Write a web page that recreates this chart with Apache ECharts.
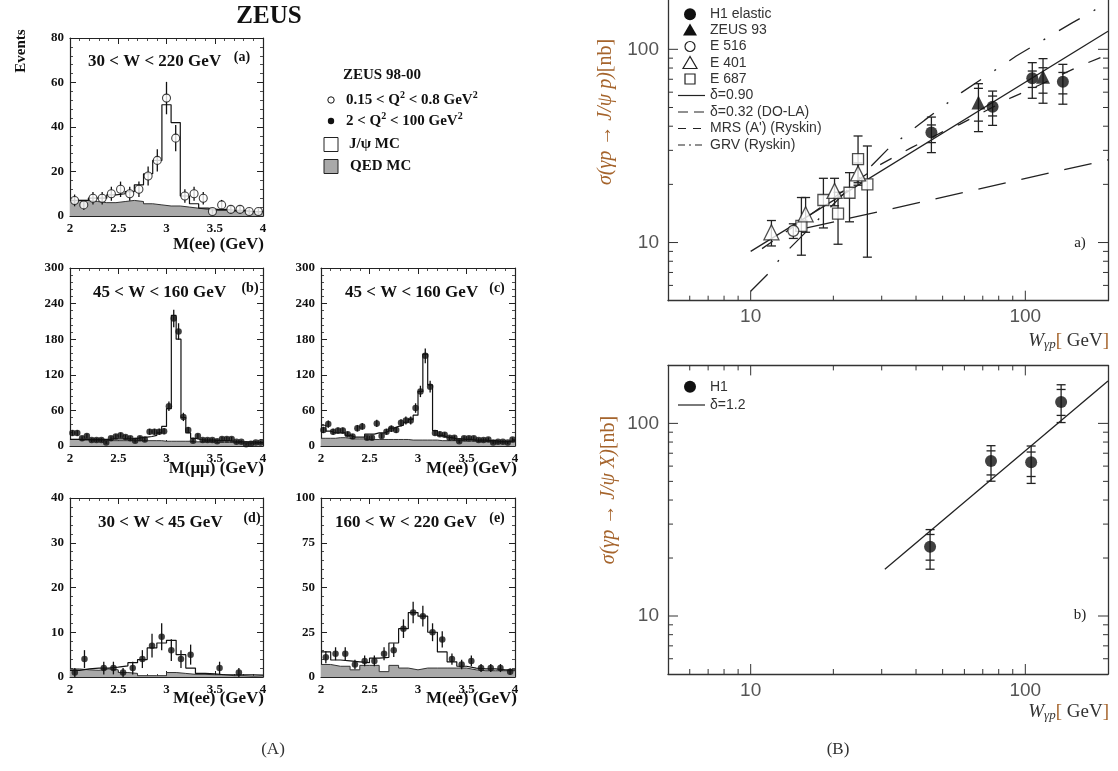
<!DOCTYPE html>
<html><head><meta charset="utf-8">
<script src="https://cdn.jsdelivr.net/npm/echarts@6/dist/echarts.min.js"></script>
<style>html,body{margin:0;padding:0;background:#fff}#c{width:1118px;height:771px}</style>
</head><body><div id="c"></div>
<script>
// ---------------- DATA (A): ZEUS 98-00 mass spectra ----------------
const massRange = [2, 4];
const massTicks = ['2', '2.5', '3', '3.5', '4'];
// (a) 30<W<220 GeV, M(ee), 21 bins
const aData   = [7,5,8,8,10,12,10,12,18,25,53,35,9,10,8,2,5,3,3,2,2];
const aJpsiMC = [7,7,8,8,9.5,10,11,14,19,25,50,42,9,5.5,3.5,3,3,2.5,2.5,2,2];
const aQedMC  = [7,7,6.5,6,6,6.5,7,6.5,5.5,5,4.5,4.5,4,3.5,3,2.5,2.5,2,2,2,2];
// (b) 45<W<160 GeV, M(mumu), 40 bins
const bData   = [22,22,13,17,10,10,10,6,13,16,18,15,13,9,13,11,24,24,24,25,67,215,193,49,27,9,17,10,10,10,8,12,12,12,7,7,3,4,6,6];
const bJpsiMC = [11,11,11,11,11,11,11,11,12,12,12,12,12,13,14,15,16,18,22,33,63,220,180,48,22,13,11,10,10,10,9,9,9,8,8,7,7,7,6,6];
const bQedMC  = [11,11,10,10,10,10,10,10,9,9,9,9,9,9,9,9,9,9,9,8,8,8,8,8,8,7,7,7,7,7,6,6,6,6,6,5,5,5,5,5];
// (c) 45<W<160 GeV, M(ee), 40 bins
const cData   = [27,37,24,26,26,20,16,30,33,14,14,38,17,24,29,27,39,43,43,64,92,152,100,22,20,19,14,14,8,13,13,13,10,10,11,6,7,7,6,11];
const cJpsiMC = [35,25,22,22,22,18,15,15,15,20,20,22,22,25,30,33,35,40,45,52,92,155,103,26,18,15,14,12,12,11,11,10,10,10,9,9,8,8,8,9];
const cQedMC  = [13,13,13,14,14,13,12,12,12,11,11,11,11,11,11,11,11,11,10,10,10,10,10,10,9,9,9,9,9,8,8,8,8,8,7,7,7,7,7,7];
// (d) 30<W<45 GeV, M(ee), 20 bins
const dData   = [1,4,null,2,2,1,2,4,7,9,6,4,5,null,null,2,null,1,null,null];
const dJpsiMC = [1.5,1.8,2,2,2.2,2.5,3.2,3.9,6.5,7.6,8.2,5,2,0.8,0.7,0.5,0.5,0.5,0.5,0.4];
const dQedMC  = [1.8,1.6,1.5,1.8,1.6,1.0,0.8,0.3,0.3,0.3,1.0,0.8,0.6,0.6,0.5,0.5,0.3,0.3,0.2,0.2];
// (e) 160<W<220 GeV, M(ee), 20 bins
const eData   = [11,13,13,7,9,9,13,15,27,36,34,25,21,10,7,9,5,5,5,3];
const eJpsiMC = [14,9.5,9,8.5,8,10.5,11,19,27,36,34,25,14,8.5,6,5,4.5,4.5,4,4];
const eQedMC  = [7,6,6,4,6.5,6.5,3,6.5,5,4,5,5,5,5,5,4,3.5,3.5,3.5,3.5];

// ---------------- DATA (B): J/psi photoproduction cross sections ----------------
const wRange = [5, 200];
const sRangeTop = [5, 180];
const sRangeBottom = [5, 200];
const logMinorTicks = [6,7,8,9,20,30,40,50,60,70,80,90];
const logMajorTicks = [10,100];
// H1 elastic: W, sigma, total lo/hi, stat lo/hi
const h1W      = [45.5, 76, 106, 137];
const h1Sig    = [37.1, 50.5, 70.8, 68];
const h1Lo     = [29.2, 40.4, 55.8, 52];
const h1Hi     = [44.6, 60.8, 85.3, 83.6];
const h1StLo   = [32.9, 45.2, 63.5, 58.8];
const h1StHi   = [40.6, 57.3, 77.2, 75.9];
// ZEUS 93
const z93W     = [67.5, 116];
const z93Sig   = [53.0, 72.1];
const z93Lo    = [37.5, 52.6];
const z93Hi    = [66.4, 89.5];
const z93StLo  = [42.5, 59.3];
const z93StHi  = [62.8, 80.3];
// E 516
const e516W = [14.3], e516Sig = [11.5], e516Lo = [10.5], e516Hi = [12.5];
// E 401
const e401W   = [11.9, 15.85, 20.2, 24.6];
const e401Sig = [11.3, 14.0, 18.5, 22.8];
const e401Lo  = [9.6, 11.3, 15.5, 19.8];
const e401Hi  = [13.0, 17.1, 21.5, 25.8];
// E 687
const e687W   = [15.3, 18.4, 20.8, 22.9, 24.6, 26.6];
const e687Sig = [12.2, 16.6, 14.1, 18.1, 27.0, 20.0];
const e687Lo  = [8.6, 11.9, 9.8, 12.8, 20.4, 8.4];
const e687Hi  = [17.1, 21.5, 18.2, 23.0, 35.6, 31.6];
// model curves [W, sigma]
const fitD090 = [[10, 9.0], [200, 124]];
const fitD032 = [[16, 11.9], [200, 26.8]];
const mrsRyskin = [[11, 9.3], [16, 13.5], [29, 24.9], [38.5, 31.0], [50.8, 37.8], [57.7, 40.9], [89, 56.3], [101, 60.8], [158, 82], [200, 94]];
const grvRyskin = [[10, 5.6], [11.7, 7.0], [13, 8.5], [32, 31], [43, 43], [58.5, 59.7], [92.7, 92.3], [148.6, 137.5], [171, 153.5], [200, 176]];
// inclusive H1 (panel b)
const h1incW    = [45, 75, 105, 135];
const h1incSig  = [22.9, 63.7, 62.8, 129];
const h1incLo   = [17.5, 50.1, 48.8, 101];
const h1incHi   = [28.1, 76.6, 76.3, 158.7];
const h1incStLo = [19.5, 54, 53, 110];
const h1incStHi = [26.5, 72, 71, 150];
const fitD12 = [[30.8, 17.5], [200, 166]];

// ---------------- helpers ----------------
const SERIF = '"Liberation Serif","Times New Roman",serif';
const SANS = '"Liberation Sans",Arial,sans-serif';
function edges(lo, hi, n) { const w = (hi - lo) / n; const e = []; for (let i = 0; i <= n; i++) e.push(lo + i * w); return e; }
function stepData(vals) { const e = edges(massRange[0], massRange[1], vals.length); const d = vals.map((v, i) => [e[i], v]); d.push([e[vals.length], vals[vals.length - 1]]); return d; }
function centerData(vals) { const e = edges(massRange[0], massRange[1], vals.length); return vals.map((v, i) => v == null ? null : [(e[i] + e[i + 1]) / 2, v]).filter(p => p); }

const grids = [], xAxes = [], yAxes = [], series = [];

function massPanel(gi, box, ymax, yint, data, mc, qed, openMarker) {
  grids.push({ left: box[0], top: box[1], width: box[2], height: box[3] });
  const line = { show: true, onZero: false, lineStyle: { color: '#222', width: 1.2 } };
  const tick = { show: true, inside: true, length: 6, lineStyle: { color: '#222', width: 1 } };
  const minor = { show: true, splitNumber: 5, length: 3, lineStyle: { color: '#222', width: 0.8 } };
  const lab = { color: '#111', fontFamily: SERIF, fontWeight: 'bold', fontSize: 13 };
  xAxes.push({ gridIndex: gi, type: 'value', min: massRange[0], max: massRange[1], interval: 0.5, position: 'bottom',
    axisLine: line, axisTick: tick, minorTick: minor, splitLine: { show: false },
    axisLabel: Object.assign({ margin: 6, formatter: v => massTicks[Math.round((v - 2) * 2)] }, lab) });
  xAxes.push({ gridIndex: gi, type: 'value', min: massRange[0], max: massRange[1], interval: 0.5, position: 'top',
    axisLine: line, axisTick: tick, minorTick: minor, splitLine: { show: false }, axisLabel: { show: false } });
  yAxes.push({ gridIndex: gi, type: 'value', min: 0, max: ymax, interval: yint, position: 'left',
    axisLine: line, axisTick: tick, minorTick: minor, splitLine: { show: false }, axisLabel: Object.assign({ margin: 6 }, lab) });
  yAxes.push({ gridIndex: gi, type: 'value', min: 0, max: ymax, interval: yint, position: 'right',
    axisLine: line, axisTick: tick, minorTick: minor, splitLine: { show: false }, axisLabel: { show: false } });
  const xi = 2 * gi, yi = 2 * gi;
  series.push({ type: 'line', xAxisIndex: xi, yAxisIndex: yi, step: 'end', data: stepData(qed), symbol: 'none', z: 1,
    lineStyle: { color: '#333', width: 1 }, areaStyle: { color: '#a9a9a9', opacity: 1 } });
  series.push({ type: 'line', xAxisIndex: xi, yAxisIndex: yi, step: 'end', data: stepData(mc), symbol: 'none', z: 2,
    lineStyle: { color: '#111', width: 1.2 } });
  const pts = centerData(data);
  series.push({ type: 'custom', xAxisIndex: xi, yAxisIndex: yi, z: 3, silent: true,
    data: pts.map(p => [p[0], p[1] - Math.sqrt(p[1]), p[1] + Math.sqrt(p[1])]),
    renderItem: (params, api) => {
      const a = api.coord([api.value(0), api.value(1)]), b = api.coord([api.value(0), api.value(2)]);
      return { type: 'line', shape: { x1: a[0], y1: a[1], x2: b[0], y2: b[1] }, style: { stroke: '#111', lineWidth: 1.3 } };
    } });
  series.push({ type: 'scatter', xAxisIndex: xi, yAxisIndex: yi, z: 4, data: pts, symbol: 'circle',
    symbolSize: openMarker ? 8 : 6.5,
    itemStyle: openMarker ? { color: '#fff', borderColor: '#111', borderWidth: 1.1 } : { color: '#111' } });
}

massPanel(0, [70, 38, 193, 178], 80, 20, aData, aJpsiMC, aQedMC, true);
massPanel(1, [70, 268, 193, 178], 300, 60, bData, bJpsiMC, bQedMC, false);
massPanel(2, [321, 268, 194, 178], 300, 60, cData, cJpsiMC, cQedMC, false);
massPanel(3, [70, 498, 193, 179], 40, 10, dData, dJpsiMC, dQedMC, false);
massPanel(4, [321, 498, 194, 179], 100, 25, eData, eJpsiMC, eQedMC, false);

function isDecade(v) { const l = Math.log10(v); return Math.abs(l - Math.round(l)) < 1e-6 && v >= 10 && v <= 100; }
function logPanel(gi, box, sRange, showTop) {
  grids.push({ left: box[0], top: box[1], width: box[2], height: box[3] });
  const line = { show: true, onZero: false, lineStyle: { color: '#333', width: 1.3 } };
  const lab = { color: '#555', fontFamily: SANS, fontSize: 19, showMinLabel: false, showMaxLabel: false,
    formatter: v => isDecade(v) ? String(Math.round(v)) : '' };
  xAxes.push({ gridIndex: gi, type: 'log', logBase: 10, min: wRange[0], max: wRange[1], position: 'bottom', axisLine: line,
    axisTick: { show: false }, splitLine: { show: false }, axisLabel: Object.assign({ margin: 7 }, lab) });
  xAxes.push({ gridIndex: gi, type: 'log', logBase: 10, min: wRange[0], max: wRange[1], position: 'top',
    axisLine: { show: showTop, onZero: false, lineStyle: { color: '#333', width: 1.3 } },
    axisTick: { show: false }, splitLine: { show: false }, axisLabel: { show: false } });
  yAxes.push({ gridIndex: gi, type: 'log', logBase: 10, min: sRange[0], max: sRange[1], position: 'left', axisLine: line,
    axisTick: { show: false }, splitLine: { show: false }, axisLabel: Object.assign({ margin: 9 }, lab) });
  yAxes.push({ gridIndex: gi, type: 'log', logBase: 10, min: sRange[0], max: sRange[1], position: 'right', axisLine: line,
    axisTick: { show: false }, splitLine: { show: false }, axisLabel: { show: false } });
  const xi = 2 * gi, yi = 2 * gi;
  const ticks = logMinorTicks.map(v => [v, 0]).concat(logMajorTicks.map(v => [v, 1]));
  const st = { stroke: '#333', lineWidth: 1 };
  series.push({ type: 'custom', xAxisIndex: xi, yAxisIndex: yi, z: 5, silent: true, clip: false,
    data: ticks.map(t => [t[0], t[0], t[1]]),
    renderItem: (params, api) => {
      const v = api.value(0), L = api.value(2) === 1 ? 10 : 5;
      const b = api.coord([v, sRange[0]]), t = api.coord([v, sRange[1]]);
      const l = api.coord([wRange[0], v]), r = api.coord([wRange[1], v]);
      const ch = [
        { type: 'line', shape: { x1: b[0], y1: b[1], x2: b[0], y2: b[1] - L }, style: st },
        { type: 'line', shape: { x1: l[0], y1: l[1], x2: l[0] + L, y2: l[1] }, style: st },
        { type: 'line', shape: { x1: r[0], y1: r[1], x2: r[0] - L, y2: r[1] }, style: st } ];
      if (showTop) ch.push({ type: 'line', shape: { x1: t[0], y1: t[1], x2: t[0], y2: t[1] + L }, style: st });
      return { type: 'group', children: ch };
    } });
  return [xi, yi];
}
function errSeries(ax, W, lo, hi, slo, shi) {
  return { type: 'custom', xAxisIndex: ax[0], yAxisIndex: ax[1], z: 3, silent: true,
    data: W.map((w, i) => [w, lo[i], hi[i], slo ? slo[i] : NaN, shi ? shi[i] : NaN]),
    renderItem: (params, api) => {
      const x = api.value(0);
      const a = api.coord([x, api.value(1)]), b = api.coord([x, api.value(2)]);
      const st = { stroke: '#222', lineWidth: 1.3 };
      const ch = [{ type: 'line', shape: { x1: a[0], y1: a[1], x2: b[0], y2: b[1] }, style: st },
        { type: 'line', shape: { x1: a[0] - 4.5, y1: a[1], x2: a[0] + 4.5, y2: a[1] }, style: st },
        { type: 'line', shape: { x1: b[0] - 4.5, y1: b[1], x2: b[0] + 4.5, y2: b[1] }, style: st }];
      [3, 4].forEach(k => { const v = api.value(k); if (isFinite(v)) { const p = api.coord([x, v]);
        ch.push({ type: 'line', shape: { x1: p[0] - 4.5, y1: p[1], x2: p[0] + 4.5, y2: p[1] }, style: st }); } });
      return { type: 'group', children: ch };
    } };
}
function pts(W, S) { return W.map((w, i) => [w, S[i]]); }
function curve(ax, data, dash, w) {
  return { type: 'line', xAxisIndex: ax[0], yAxisIndex: ax[1], data: data, symbol: 'none', z: 2, smooth: false,
    lineStyle: { color: '#222', width: w || 1.3, type: dash || 'solid' } };
}
const DASH_DOLA = [28, 16], DASH_MRS = [13, 16], DASH_GRV = [24, 16, 2, 16];

const axT = logPanel(5, [668, 0, 440, 300.7], sRangeTop, false);
series.push(curve(axT, fitD090));
series.push(curve(axT, fitD032, DASH_DOLA));
series.push(curve(axT, mrsRyskin, DASH_MRS));
series.push(curve(axT, grvRyskin, DASH_GRV));
series.push(errSeries(axT, h1W, h1Lo, h1Hi, h1StLo, h1StHi));
series.push(errSeries(axT, z93W, z93Lo, z93Hi, z93StLo, z93StHi));
series.push(errSeries(axT, e516W, e516Lo, e516Hi));
series.push(errSeries(axT, e401W, e401Lo, e401Hi));
series.push(errSeries(axT, e687W, e687Lo, e687Hi));
const openStyle = { color: '#fff', borderColor: '#222', borderWidth: 1.3 };
series.push({ type: 'scatter', xAxisIndex: axT[0], yAxisIndex: axT[1], z: 4, data: pts(e687W, e687Sig), symbol: 'rect', symbolSize: 11, itemStyle: openStyle });
series.push({ type: 'scatter', xAxisIndex: axT[0], yAxisIndex: axT[1], z: 4, data: pts(e401W, e401Sig), symbol: 'triangle', symbolSize: 15, itemStyle: openStyle });
series.push({ type: 'scatter', xAxisIndex: axT[0], yAxisIndex: axT[1], z: 4, data: pts(e516W, e516Sig), symbol: 'circle', symbolSize: 11, itemStyle: openStyle });
series.push({ type: 'scatter', xAxisIndex: axT[0], yAxisIndex: axT[1], z: 4, data: pts(h1W, h1Sig), symbol: 'circle', symbolSize: 12, itemStyle: { color: '#111' } });
series.push({ type: 'scatter', xAxisIndex: axT[0], yAxisIndex: axT[1], z: 4, data: pts(z93W, z93Sig), symbol: 'triangle', symbolSize: 14, itemStyle: { color: '#111' } });

const axB = logPanel(6, [668, 365.4, 440, 308.6], sRangeBottom, true);
series.push(curve(axB, fitD12));
series.push(errSeries(axB, h1incW, h1incLo, h1incHi, h1incStLo, h1incStHi));
series.push({ type: 'scatter', xAxisIndex: axB[0], yAxisIndex: axB[1], z: 4, data: pts(h1incW, h1incSig), symbol: 'circle', symbolSize: 12, itemStyle: { color: '#111' } });

// ---------------- text / legends ----------------
const G = [];
function txt(x, y, text, font, opts) {
  const o = Object.assign({ type: 'text', x: x, y: y, silent: true, z: 10,
    style: { text: text, font: font, fill: '#111', textAlign: 'left', textVerticalAlign: 'middle' } }, opts || {});
  if (opts && opts.style) o.style = Object.assign({ text: text, font: font, fill: '#111', textAlign: 'left', textVerticalAlign: 'middle' }, opts.style);
  G.push(o);
}
const B17 = 'bold 17px ' + SERIF, B14 = 'bold 14px ' + SERIF;
txt(269, 17, 'ZEUS', 'bold 25px ' + SERIF, { style: { textAlign: 'center' } });
txt(21, 51, 'Events', 'bold 15px ' + SERIF, { rotation: Math.PI / 2, style: { textAlign: 'center' } });
// panel labels
txt(88, 62, '30 < W < 220 GeV', B17); txt(242, 57, '(a)', B14, { style: { textAlign: 'center' } });
txt(93, 293, '45 < W < 160 GeV', B17); txt(250, 288, '(b)', B14, { style: { textAlign: 'center' } });
txt(345, 293, '45 < W < 160 GeV', B17); txt(497, 288, '(c)', B14, { style: { textAlign: 'center' } });
txt(98, 523, '30 < W < 45 GeV', B17); txt(252, 518, '(d)', B14, { style: { textAlign: 'center' } });
txt(335, 523, '160 < W < 220 GeV', B17); txt(497, 518, '(e)', B14, { style: { textAlign: 'center' } });
// axis titles
txt(264, 245, 'M(ee) (GeV)', B17, { style: { textAlign: 'right' } });
txt(264, 469, 'M(μμ) (GeV)', B17, { style: { textAlign: 'right' } });
txt(517, 469, 'M(ee) (GeV)', B17, { style: { textAlign: 'right' } });
txt(264, 699, 'M(ee) (GeV)', B17, { style: { textAlign: 'right' } });
txt(517, 699, 'M(ee) (GeV)', B17, { style: { textAlign: 'right' } });
// left legend
txt(343, 75, 'ZEUS 98-00', 'bold 15px ' + SERIF);
G.push({ type: 'circle', shape: { cx: 331, cy: 100, r: 3.2 }, style: { fill: '#fff', stroke: '#111', lineWidth: 1 }, z: 10 });
G.push({ type: 'circle', shape: { cx: 331, cy: 121, r: 3.2 }, style: { fill: '#111' }, z: 10 });
G.push({ type: 'rect', shape: { x: 324, y: 137.5, width: 14, height: 14 }, style: { fill: '#fff', stroke: '#222', lineWidth: 1 }, z: 10 });
G.push({ type: 'rect', shape: { x: 324, y: 159.5, width: 14, height: 14 }, style: { fill: '#a9a9a9', stroke: '#222', lineWidth: 1 }, z: 10 });
const supRich = { t: { font: 'bold 15px ' + SERIF, fill: '#111' }, s: { font: 'bold 10px ' + SERIF, fill: '#111', padding: [0, 0, 9, 0] } };
G.push({ type: 'text', x: 346, y: 100, z: 10, style: { text: '{t|0.15 < Q}{s|2}{t| < 0.8 GeV}{s|2}', rich: supRich, textVerticalAlign: 'middle', fill: '#111', font: 'bold 15px ' + SERIF } });
G.push({ type: 'text', x: 346, y: 121, z: 10, style: { text: '{t|2 < Q}{s|2}{t| < 100 GeV}{s|2}', rich: supRich, textVerticalAlign: 'middle', fill: '#111', font: 'bold 15px ' + SERIF } });
txt(349, 144.5, 'J/ψ MC', 'bold 15px ' + SERIF);
txt(350, 166.5, 'QED MC', 'bold 15px ' + SERIF);
// right legends
const LT = '14px ' + SANS;
const lfill = '#333';
function lgText(y, s) { txt(710, y, s, LT, { style: { fill: lfill } }); }
function lgLine(y, dash) { G.push({ type: 'line', z: 10, shape: { x1: 678, y1: y, x2: 705, y2: y }, style: { stroke: '#222', lineWidth: 1.2, lineDash: dash || null } }); }
function tri(cx, cy, filled) { G.push({ type: 'polygon', z: 10, shape: { points: [[cx, cy - 7], [cx - 7, cy + 5], [cx + 7, cy + 5]] }, style: filled ? { fill: '#111' } : { fill: '#fff', stroke: '#222', lineWidth: 1.2 } }); }
G.push({ type: 'circle', z: 10, shape: { cx: 690, cy: 14.3, r: 6 }, style: { fill: '#111' } }); lgText(14.3, 'H1 elastic');
tri(690, 30.5, true); lgText(30, 'ZEUS 93');
G.push({ type: 'circle', z: 10, shape: { cx: 690, cy: 46.5, r: 5 }, style: { fill: '#fff', stroke: '#222', lineWidth: 1.2 } }); lgText(46.5, 'E 516');
tri(690, 63.5, false); lgText(63, 'E 401');
G.push({ type: 'rect', z: 10, shape: { x: 685, y: 74, width: 10, height: 10 }, style: { fill: '#fff', stroke: '#222', lineWidth: 1.2 } }); lgText(79, 'E 687');
lgLine(95.5); lgText(95.5, 'δ=0.90');
lgLine(112, [10, 6]); lgText(112, 'δ=0.32 (DO-LA)');
lgLine(128.5, [8, 7]); lgText(128.5, "MRS (A') (Ryskin)");
lgLine(145, [7, 4, 2, 4]); lgText(145, 'GRV (Ryskin)');
G.push({ type: 'circle', z: 10, shape: { cx: 690, cy: 386.7, r: 6 }, style: { fill: '#111' } }); lgText(386.7, 'H1');
lgLine(405); lgText(405, 'δ=1.2');
// right axis titles
const OR = '#a5642c';
const yRich = { m: { font: 'italic 20px ' + SERIF, fill: OR }, n: { font: '20px ' + SERIF, fill: OR } };
G.push({ type: 'text', x: 606, y: 112, rotation: Math.PI / 2, z: 10, style: { text: '{m|σ(γp → J/ψ p)}{n|[nb]}', rich: yRich, textAlign: 'center', textVerticalAlign: 'middle', font: '20px ' + SERIF } });
G.push({ type: 'text', x: 609, y: 490, rotation: Math.PI / 2, z: 10, style: { text: '{m|σ(γp → J/ψ X)}{n|[nb]}', rich: yRich, textAlign: 'center', textVerticalAlign: 'middle', font: '20px ' + SERIF } });
const wRich = { w: { font: 'italic 19px ' + SERIF, fill: '#333' }, s: { font: 'italic 13px ' + SERIF, fill: '#333', padding: [8, 0, 0, 0] }, b: { font: '19px ' + SERIF, fill: OR }, g: { font: '19px ' + SERIF, fill: '#333' } };
G.push({ type: 'text', x: 1109, y: 341, z: 10, style: { text: '{w|W}{s|γp}{b|[}{g| GeV}{b|]}', rich: wRich, textAlign: 'right', textVerticalAlign: 'middle', font: '19px ' + SERIF } });
G.push({ type: 'text', x: 1109, y: 712, z: 10, style: { text: '{w|W}{s|γp}{b|[}{g| GeV}{b|]}', rich: wRich, textAlign: 'right', textVerticalAlign: 'middle', font: '19px ' + SERIF } });
txt(1080, 243, 'a)', '15px ' + SERIF, { style: { textAlign: 'center', fill: '#222' } });
txt(1080, 615, 'b)', '15px ' + SERIF, { style: { textAlign: 'center', fill: '#222' } });
// captions
txt(273, 750, '(A)', '17px ' + SERIF, { style: { textAlign: 'center', fill: '#333' } });
txt(838, 750, '(B)', '17px ' + SERIF, { style: { textAlign: 'center', fill: '#333' } });

const chart = echarts.init(document.getElementById('c'), null, { renderer: 'canvas' });
chart.setOption({ animation: false, backgroundColor: '#fff', grid: grids, xAxis: xAxes, yAxis: yAxes, series: series, graphic: { elements: G } });
</script></body></html>
